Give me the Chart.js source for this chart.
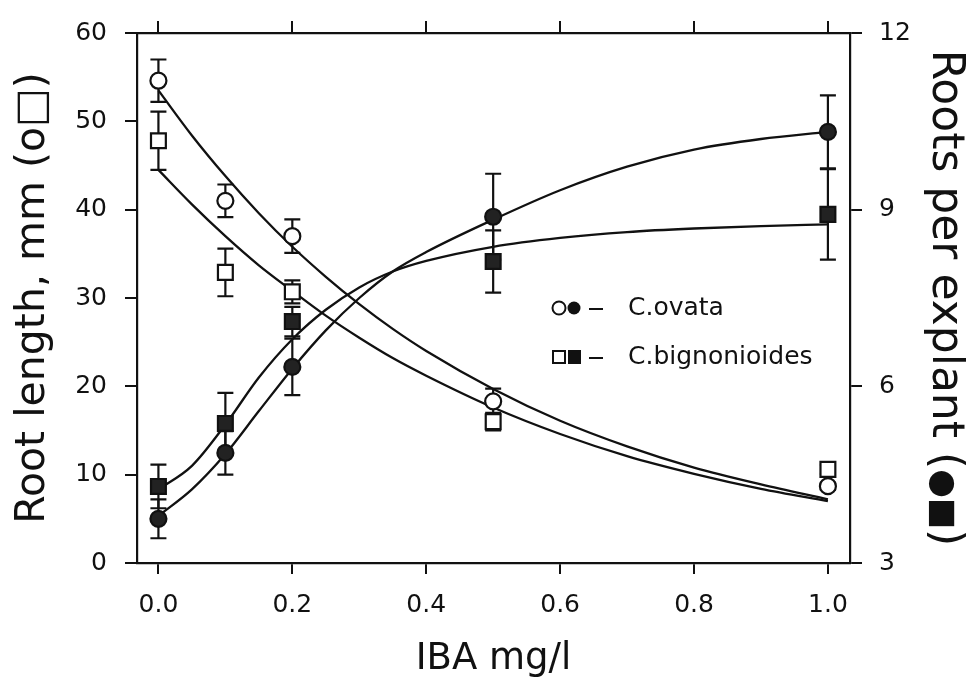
<!DOCTYPE html>
<html><head><meta charset="utf-8">
<script src="https://cdn.jsdelivr.net/npm/chart.js@4/dist/chart.umd.min.js"></script>
<style>html,body{margin:0;padding:0;background:#fff;}#wrap{width:966px;height:684px;}</style>
</head><body><div id="wrap"><canvas id="c" width="966" height="684"></canvas></div>
<script>
// IBA concentrations (mg/l)
const doses = [0, 0.1, 0.2, 0.5, 1.0];
// Root length, mm (open symbols, left axis)
const lengthOvata = [54.6, 41.0, 37.0, 18.3, 8.7];
const lengthOvataErr = [2.4, 1.85, 1.9, 1.45, 0.4];
const lengthBign = [47.8, 32.9, 30.7, 16.0, 10.6];
const lengthBignErr = [3.3, 2.7, 1.3, 1.0, 0.5];
// Roots per explant (filled symbols, right axis)
const rootsOvata = [3.75, 4.87, 6.33, 8.88, 10.32];
const rootsOvataErr = [0.33, 0.37, 0.48, 0.73, 0.62];
const rootsBign = [4.3, 5.37, 7.1, 8.12, 8.92];
const rootsBignErr = [0.37, 0.52, 0.25, 0.53, 0.77];
// Fitted curves
const fitX = [0, 0.05, 0.1, 0.15, 0.2, 0.25, 0.3, 0.35, 0.4, 0.5, 0.6, 0.7, 0.8, 0.9, 1.0];
const fitLengthOvata = [53.5, 48.4, 43.8, 39.6, 35.8, 32.4, 29.3, 26.5, 24.0, 19.7, 16.1, 13.2, 10.8, 8.9, 7.2];
const fitLengthBign = [44.5, 40.6, 37.0, 33.7, 30.8, 28.0, 25.5, 23.2, 21.2, 17.6, 14.6, 12.1, 10.1, 8.4, 7.0];
const fitRootsOvata = [3.8, 4.25, 4.85, 5.58, 6.3, 6.95, 7.5, 7.95, 8.28, 8.83, 9.33, 9.73, 10.02, 10.2, 10.32];
const fitRootsBign = [4.25, 4.65, 5.35, 6.15, 6.8, 7.3, 7.68, 7.95, 8.13, 8.37, 8.52, 8.62, 8.68, 8.72, 8.75];
// Tick labels
const xTicks = [0, 0.2, 0.4, 0.6, 0.8, 1.0];
const leftTicks = [0, 10, 20, 30, 40, 50, 60];
const rightTicks = [3, 6, 9, 12];
const legendLabels = ['C.ovata', 'C.bignonioides'];
const rightTitleParts = ['Roots per explant (', '\u25CF\u25A0', ')'];

const FONT = 'DejaVu Sans';
const INK = '#111';
const zip = (xs, ys) => xs.map((x, i) => ({x: x, y: ys[i]}));

function pointSet(label, ys, errs, axis, style, filled, r) {
  return {type: 'scatter', label, data: zip(doses, ys), errors: errs, yAxisID: axis,
    pointStyle: style, pointRadius: r, pointHoverRadius: r, pointBorderWidth: 2.2,
    pointBorderColor: INK, pointBackgroundColor: filled ? '#222' : '#fff', showLine: false, order: 0};
}
function fitSet(label, ys, axis) {
  return {type: 'line', label, data: zip(fitX, ys), yAxisID: axis, borderColor: INK, borderWidth: 2.3,
    pointRadius: 0, cubicInterpolationMode: 'monotone', fill: false, order: 1};
}

const errorBars = {
  id: 'errorBars',
  beforeDatasetsDraw(chart) {
    const ctx = chart.ctx;
    ctx.save();
    ctx.strokeStyle = INK; ctx.lineWidth = 2.2;
    chart.data.datasets.forEach(ds => {
      if (!ds.errors) return;
      const xs = chart.scales.x, ys = chart.scales[ds.yAxisID];
      ds.data.forEach((p, i) => {
        const e = ds.errors[i];
        const px = xs.getPixelForValue(p.x);
        const t = ys.getPixelForValue(p.y + e), b = ys.getPixelForValue(p.y - e);
        ctx.beginPath();
        ctx.moveTo(px, t); ctx.lineTo(px, b);
        ctx.moveTo(px - 8, t); ctx.lineTo(px + 8, t);
        ctx.moveTo(px - 8, b); ctx.lineTo(px + 8, b);
        ctx.stroke();
      });
    });
    ctx.restore();
  }
};

const legendPlugin = {
  id: 'symLegend',
  afterDraw(chart) {
    const ctx = chart.ctx;
    ctx.save();
    ctx.strokeStyle = INK; ctx.fillStyle = INK; ctx.lineWidth = 2;
    const rows = [308, 357];
    rows.forEach((y, k) => {
      if (k === 0) {
        ctx.beginPath(); ctx.arc(559, y, 6.5, 0, Math.PI * 2); ctx.fillStyle = '#fff'; ctx.fill(); ctx.stroke();
        ctx.beginPath(); ctx.arc(574, y, 6.5, 0, Math.PI * 2); ctx.fillStyle = '#111'; ctx.fill();
      } else {
        ctx.fillStyle = '#fff'; ctx.fillRect(553, y - 6, 12, 12); ctx.strokeRect(553, y - 6, 12, 12);
        ctx.fillStyle = '#111'; ctx.fillRect(568, y - 7, 13, 14);
      }
      ctx.beginPath(); ctx.moveTo(589, y + 1); ctx.lineTo(603, y + 1); ctx.stroke();
      ctx.fillStyle = INK;
      ctx.font = '25px "' + FONT + '"';
      ctx.textBaseline = 'middle'; ctx.textAlign = 'left';
      ctx.fillText(legendLabels[k], 628, y);
    });

    // right axis title, rotated clockwise, symbols slightly smaller
    const sizes = [44, 33, 44];
    const area = chart.chartArea;
    const cy = (area.top + area.bottom) / 2;
    let widths = rightTitleParts.map((t, i) => { ctx.font = sizes[i] + 'px "' + FONT + '"'; return ctx.measureText(t).width; });
    const total = widths.reduce((a, b) => a + b, 0);
    ctx.translate(944, cy);
    ctx.rotate(Math.PI / 2);
    ctx.fillStyle = INK; ctx.textBaseline = 'middle'; ctx.textAlign = 'left';
    let pos = -total / 2;
    rightTitleParts.forEach((t, i) => {
      ctx.font = sizes[i] + 'px "' + FONT + '"';
      ctx.fillText(t, pos, i === 1 ? 2 : 0);
      pos += widths[i];
    });
    ctx.restore();
  }
};

const axisCommon = {
  grid: {drawOnChartArea: false, drawTicks: true, tickLength: 12, color: INK, lineWidth: 2},
  border: {display: true, color: INK, width: 2.2}
};

new Chart(document.getElementById('c'), {
  data: {
    datasets: [
      pointSet('C.ovata root length', lengthOvata, lengthOvataErr, 'y', 'circle', false, 8),
      pointSet('C.bignonioides root length', lengthBign, lengthBignErr, 'y', 'rect', false, 10.5),
      pointSet('C.ovata roots', rootsOvata, rootsOvataErr, 'y2', 'circle', true, 8),
      pointSet('C.bignonioides roots', rootsBign, rootsBignErr, 'y2', 'rect', true, 10.5),
      fitSet('fit1', fitLengthOvata, 'y'),
      fitSet('fit2', fitLengthBign, 'y'),
      fitSet('fit3', fitRootsOvata, 'y2'),
      fitSet('fit4', fitRootsBign, 'y2')
    ]
  },
  options: {
    responsive: false, animation: false, devicePixelRatio: 1,
    layout: {padding: 0},
    plugins: {legend: {display: false}, tooltip: {enabled: false}},
    scales: {
      x: Object.assign({}, axisCommon, {
        type: 'linear', position: 'bottom', min: -0.032, max: 1.033,
        grid: Object.assign({}, axisCommon.grid, {tickLength: 11}),
        afterBuildTicks: s => { s.ticks = xTicks.map(v => ({value: v})); },
        afterFit: s => { s.height = 121; },
        ticks: {color: INK, font: {family: FONT, size: 25}, padding: 16, maxRotation: 0,
          callback: v => Number(v).toFixed(1)},
        title: {display: true, text: 'IBA mg/l', color: INK, font: {family: FONT, size: 37, lineHeight: 1},
          padding: {top: 0, bottom: 6}}
      }),
      x2: Object.assign({}, axisCommon, {
        type: 'linear', position: 'top', min: -0.032, max: 1.033,
        afterBuildTicks: s => { s.ticks = xTicks.map(v => ({value: v})); },
        afterFit: s => { s.height = 23; },
        ticks: {display: false}
      }),
      y: Object.assign({}, axisCommon, {
        type: 'linear', position: 'left', min: 0, max: 60,
        afterBuildTicks: s => { s.ticks = leftTicks.map(v => ({value: v})); },
        afterFit: s => { s.width = 137; },
        ticks: {color: INK, font: {family: FONT, size: 25}, padding: 18},
        title: {display: true, text: 'Root length, mm (o\u25A1)', color: INK,
          font: {family: FONT, size: 41, lineHeight: 1}, padding: {top: 13, bottom: 0}}
      }),
      y2: Object.assign({}, axisCommon, {
        type: 'linear', position: 'right', min: 3, max: 12,
        afterBuildTicks: s => { s.ticks = rightTicks.map(v => ({value: v})); },
        afterFit: s => { s.width = 116; },
        ticks: {color: INK, font: {family: FONT, size: 25}, padding: 17}
      })
    }
  },
  plugins: [errorBars, legendPlugin]
});
</script>
</body></html>
